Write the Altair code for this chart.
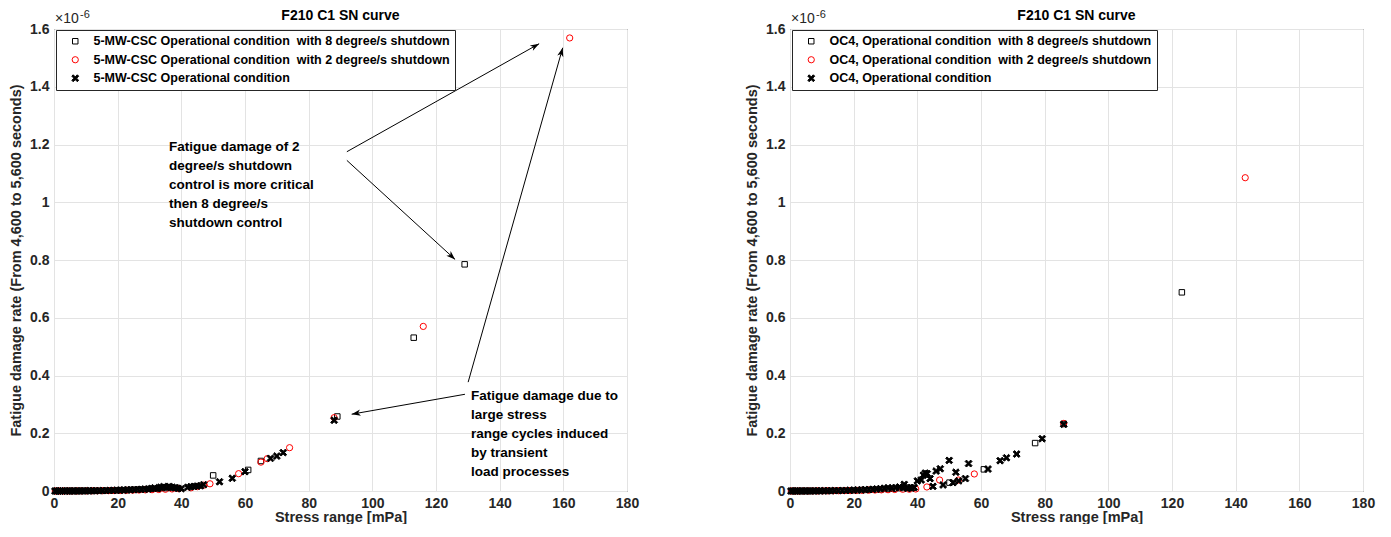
import math
import altair as alt
import pandas as pd

# ---------------- data (stress range [mPa], damage rate [x1e-6]) ----------------
TITLE = "F210 C1 SN curve"
X_TITLE = "Stress range [mPa]"
Y_TITLE = "Fatigue damage rate (From 4,600 to 5,600 seconds)"
X_TICKS = [0, 20, 40, 60, 80, 100, 120, 140, 160, 180]
Y_TICKS = [0, 0.2, 0.4, 0.6, 0.8, 1.0, 1.2, 1.4, 1.6]

SERIES_LEFT = ["5-MW-CSC Operational condition\u00a0 with 8 degree/s shutdown",
               "5-MW-CSC Operational condition\u00a0 with 2 degree/s shutdown",
               "5-MW-CSC Operational condition"]
SERIES_RIGHT = ["OC4, Operational condition\u00a0 with 8 degree/s shutdown",
                "OC4, Operational condition\u00a0 with 2 degree/s shutdown",
                "OC4, Operational condition"]

# left panel
L_SQ_X = [0.5, 1.8, 3.2, 4.6, 6.0, 7.5, 9.0, 10.6, 12.2, 13.9, 15.6, 17.4, 19.2, 21.0, 22.9, 24.8,
          26.7, 28.6, 30.6, 32.6, 34.6, 36.6, 38.6, 50.0, 61.0, 65.0, 89.0, 113.0, 129.0]
L_SQ_Y = [0, 0, 0.0001, 0.0001, 0.0002, 0.0003, 0.0004, 0.0005, 0.0007, 0.001, 0.0013, 0.0017, 0.0022,
          0.0028, 0.0035, 0.0042, 0.005, 0.006, 0.007, 0.008, 0.010, 0.012, 0.011, 0.054, 0.073, 0.104,
          0.258, 0.531, 0.785]
L_CI_X = [0.4, 1.6, 2.9, 4.3, 5.7, 7.2, 8.7, 10.3, 11.9, 13.6, 15.3, 17.1, 18.9, 20.8, 22.7, 24.7, 26.7,
          28.7, 30.8, 32.9, 35.0, 37.1, 39.2, 43.0, 45.0, 47.0, 49.0, 58.0, 65.0, 67.0, 74.0, 88.0, 116.0,
          162.0]
L_CI_Y = [0, 0, 0, 0.0001, 0.0001, 0.0002, 0.0003, 0.0004, 0.0005, 0.0007, 0.0009, 0.0012, 0.0015, 0.0019,
          0.0023, 0.0028, 0.0033, 0.0039, 0.0045, 0.0052, 0.006, 0.007, 0.008, 0.011, 0.015, 0.020, 0.025,
          0.060, 0.100, 0.112, 0.150, 0.254, 0.570, 1.569]
L_OP_X = [0.3, 0.8, 1.4, 2.0, 2.7, 3.4, 4.1, 4.9, 5.7, 6.5, 7.4, 8.3, 9.2, 10.1, 11.1, 12.1, 13.1, 14.2,
          15.3, 16.4, 17.5, 18.6, 19.7, 20.8, 21.9, 23.0, 24.1, 25.2, 26.3, 27.4, 28.5, 29.6, 30.6, 31.6,
          32.6, 33.5, 34.4, 35.3, 36.2, 37.1, 38.0, 39.0, 40.0, 42.0, 43.0, 44.0, 45.0, 46.0, 47.0, 52.0,
          56.0, 60.0, 68.0, 70.0, 72.0, 88.0]
L_OP_Y = [0, 0, 0, 0, 0, 0.0001, 0.0001, 0.0001, 0.0002, 0.0002, 0.0003, 0.0003, 0.0004, 0.0005, 0.0006,
          0.0007, 0.0009, 0.0011, 0.0013, 0.0016, 0.0019, 0.0022, 0.0026, 0.003, 0.0034, 0.0038, 0.0043,
          0.0048, 0.0053, 0.0058, 0.0064, 0.007, 0.0085, 0.011, 0.009, 0.013, 0.015, 0.012, 0.016, 0.013,
          0.011, 0.009, 0.008, 0.013, 0.015, 0.016, 0.017, 0.018, 0.022, 0.032, 0.044, 0.067, 0.113, 0.121,
          0.133, 0.245]

# right panel
R_SQ_X = [0.5, 1.8, 3.2, 4.6, 6.0, 7.5, 9.0, 10.6, 12.2, 13.9, 15.6, 17.4, 19.2, 21.0, 22.9, 24.8,
          26.7, 28.6, 30.6, 32.6, 34.6, 36.6, 38.6, 50.1, 60.9, 77.0, 86.0, 123.1]
R_SQ_Y = [0, 0, 0.0001, 0.0001, 0.0002, 0.0003, 0.0004, 0.0005, 0.0007, 0.001, 0.0013, 0.0017, 0.0022,
          0.0028, 0.0035, 0.0042, 0.005, 0.006, 0.007, 0.008, 0.010, 0.012, 0.011, 0.029, 0.075, 0.166,
          0.232, 0.688]
R_CI_X = [0.4, 1.6, 2.9, 4.3, 5.7, 7.2, 8.7, 10.3, 11.9, 13.6, 15.3, 17.1, 18.9, 20.8, 22.7, 24.7, 26.7,
          28.7, 30.8, 32.9, 35.4, 37.5, 39.5, 43.0, 47.0, 52.9, 57.9, 86.0, 143.0]
R_CI_Y = [0, 0, 0, 0.0001, 0.0001, 0.0002, 0.0003, 0.0004, 0.0005, 0.0007, 0.0009, 0.0012, 0.0015, 0.0019,
          0.0023, 0.0028, 0.0033, 0.0039, 0.0045, 0.0052, 0.006, 0.006, 0.007, 0.014, 0.038, 0.038, 0.059,
          0.234, 1.085]
R_OP_X = [0.3, 0.9, 1.6, 2.3, 3.1, 3.9, 4.8, 5.7, 6.6, 7.6, 8.6, 9.6, 10.7, 11.8, 12.9, 14.0, 15.2, 16.4,
          17.6, 18.8, 20.0, 21.2, 22.4, 23.6, 24.8, 26.0, 27.2, 28.4, 29.6, 30.8, 32.0, 33.2, 34.4, 35.6,
          35.9, 36.8, 37.0, 38.0, 39.0, 40.0, 41.2, 41.9, 42.5, 43.1, 44.0, 44.9, 45.9, 47.2, 48.1, 50.0,
          51.2, 52.1, 53.0, 55.1, 56.1, 62.2, 66.0, 68.0, 71.2, 79.2, 86.0]
R_OP_Y = [0, 0, 0, 0, 0, 0.0001, 0.0001, 0.0002, 0.0002, 0.0003, 0.0004, 0.0005, 0.0006, 0.0008, 0.001,
          0.0012, 0.0015, 0.0018, 0.0021, 0.0025, 0.003, 0.0035, 0.004, 0.0046, 0.0052, 0.006, 0.0068, 0.008,
          0.0095, 0.011, 0.010, 0.012, 0.014, 0.012, 0.023, 0.011, 0.009, 0.010, 0.012, 0.035, 0.038, 0.055,
          0.062, 0.060, 0.043, 0.016, 0.069, 0.077, 0.021, 0.106, 0.029, 0.065, 0.035, 0.043, 0.095, 0.076,
          0.105, 0.115, 0.128, 0.181, 0.231]

# annotations (left panel), in data coordinates
ANN_TEXT = ["Fatigue damage of 2\ndegree/s shutdown\ncontrol is more critical\nthen 8 degree/s\nshutdown control",
            "Fatigue damage due to\nlarge stress\nrange cycles induced\nby transient\nload processes"]
ANN_X = [36.1, 131.0]
ANN_Y = [1.216, 0.3535]
ARROW_X1 = [92.0, 92.0, 130.1, 129.1]
ARROW_Y1 = [1.175, 1.145, 0.377, 0.335]
ARROW_X2 = [152.4, 126.0, 159.8, 93.5]
ARROW_Y2 = [1.549, 0.802, 1.535, 0.266]

# ---------------- styling ----------------
W, H = 573, 462
FONT = "Liberation Sans"
INK = "#262626"
XPATH = "M-1,-0.6L-0.6,-1L0,-0.4L0.6,-1L1,-0.6L0.4,0L1,0.6L0.6,1L0,0.4L-0.6,1L-1,0.6L-0.4,0Z"
HEAD = "M0,0L0.7,2L0,1.45L-0.7,2Z"


def series_df(names, xs_list, ys_list):
    rows = []
    for name, xs, ys in zip(names, xs_list, ys_list):
        for xv, yv in zip(xs, ys):
            rows.append({"series": name, "x": xv, "y": yv})
    return pd.DataFrame(rows)


def panel(df, names, annotate):
    xscale = alt.Scale(domain=[0, 180], nice=False, zero=False)
    yscale = alt.Scale(domain=[0, 1.6], nice=False, zero=False)
    leg = alt.Legend(title=None, orient="none", legendX=2, legendY=1)
    pts = alt.Chart(df).mark_point(filled=True, strokeWidth=1, opacity=1).encode(
        x=alt.X("x:Q", scale=xscale,
                axis=alt.Axis(values=X_TICKS, title=X_TITLE, labelFlush=False, ticks=False,
                              domain=False, labelPadding=5, titlePadding=0)),
        y=alt.Y("y:Q", scale=yscale,
                axis=alt.Axis(values=Y_TICKS, title=Y_TITLE, labelExpr="format(datum.value, '~g')",
                              ticks=False, domain=False, labelPadding=5, titlePadding=6)),
        shape=alt.Shape("series:N", scale=alt.Scale(domain=names, range=["square", "circle", XPATH]),
                        legend=leg),
        fill=alt.Fill("series:N", scale=alt.Scale(domain=names, range=["transparent", "transparent", "black"]),
                      legend=leg),
        stroke=alt.Stroke("series:N", scale=alt.Scale(domain=names, range=["black", "red", "black"]),
                          legend=leg),
        size=alt.Size("series:N", scale=alt.Scale(domain=names, range=[30, 48, 70]), legend=leg),
    )
    title = alt.Chart(pd.DataFrame({"t": [TITLE]})).mark_text(
        font=FONT, fontSize=14, fontWeight="bold", color="black", baseline="middle", align="center"
    ).encode(text="t:N", x=alt.value(W / 2), y=alt.value(-13))
    expo = alt.Chart(pd.DataFrame({"t": ["\u00d710"]})).mark_text(
        font=FONT, fontSize=14, color=INK, baseline="middle", align="left"
    ).encode(text="t:N", x=alt.value(1), y=alt.value(-10))
    expo2 = alt.Chart(pd.DataFrame({"t": ["-6"]})).mark_text(
        font=FONT, fontSize=11, color=INK, baseline="middle", align="left"
    ).encode(text="t:N", x=alt.value(26), y=alt.value(-14))
    layers = [pts, title, expo, expo2]
    if annotate:
        sx = W / 180.0
        sy = H / 1.6
        angs = []
        for x1, y1, x2, y2 in zip(ARROW_X1, ARROW_Y1, ARROW_X2, ARROW_Y2):
            dx = (x2 - x1) * sx
            dy = -(y2 - y1) * sy
            angs.append(math.degrees(math.atan2(dx, -dy)) % 360)
        arr = pd.DataFrame({"x1": ARROW_X1, "y1": ARROW_Y1, "x2": ARROW_X2, "y2": ARROW_Y2, "ang": angs})
        rules = alt.Chart(arr).mark_rule(color="black", strokeWidth=1).encode(
            x=alt.X("x1:Q", scale=xscale), y=alt.Y("y1:Q", scale=yscale), x2="x2:Q", y2="y2:Q")
        heads = alt.Chart(arr).mark_point(shape=HEAD, filled=True, color="black", size=80, opacity=1).encode(
            x=alt.X("x2:Q", scale=xscale), y=alt.Y("y2:Q", scale=yscale),
            angle=alt.Angle("ang:Q", scale=None))
        ann = pd.DataFrame({"x": ANN_X, "y": ANN_Y, "t": ANN_TEXT})
        texts = alt.Chart(ann).mark_text(
            font=FONT, fontSize=13.5, fontWeight="bold", color="black", align="left", baseline="top",
            lineBreak="\n", lineHeight=19
        ).encode(x=alt.X("x:Q", scale=xscale), y=alt.Y("y:Q", scale=yscale), text="t:N")
        layers += [rules, heads, texts]
    return alt.layer(*layers).properties(width=W, height=H)


left = panel(series_df(SERIES_LEFT, [L_SQ_X, L_CI_X, L_OP_X], [L_SQ_Y, L_CI_Y, L_OP_Y]), SERIES_LEFT, True)
right = panel(series_df(SERIES_RIGHT, [R_SQ_X, R_CI_X, R_OP_X], [R_SQ_Y, R_CI_Y, R_OP_Y]), SERIES_RIGHT, False)

chart = alt.hconcat(left, right, spacing=104).resolve_scale(
    shape="independent", fill="independent", stroke="independent", size="independent"
).resolve_legend(
    shape="independent", fill="independent", stroke="independent", size="independent"
).properties(
    padding={"left": 0, "top": 0, "right": 4, "bottom": 0}
).configure_view(
    stroke=INK, strokeWidth=1
).configure_axis(
    labelFont=FONT, labelFontSize=14, labelFontWeight="bold", labelColor=INK,
    titleFont=FONT, titleFontSize=14.5, titleFontWeight="bold", titleColor=INK,
    gridColor="#e3e3e3", gridWidth=1, gridOpacity=1
).configure_legend(
    labelFont=FONT, labelFontSize=12.5, labelFontWeight="bold", labelColor="black", labelLimit=800,
    strokeColor=INK, fillColor="white", padding=5, rowPadding=5.5, symbolOffset=8, labelOffset=12,
    symbolStrokeWidth=1, cornerRadius=0
)

chart.save("out.html", embed_options={"renderer": "svg", "actions": False})
